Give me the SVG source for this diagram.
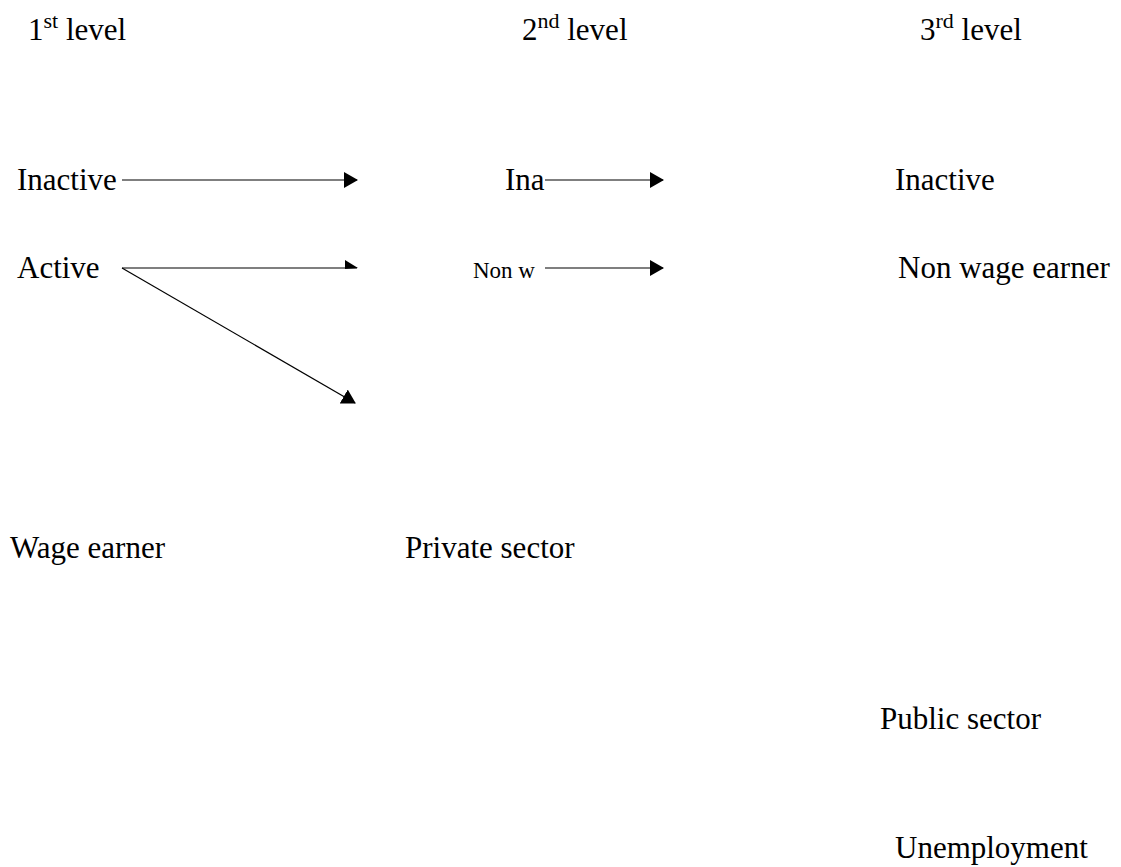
<svg xmlns="http://www.w3.org/2000/svg" width="1121" height="867" viewBox="0 0 1121 867">
<style>
text{font-family:"Liberation Serif","DejaVu Serif",serif;font-size:31px;fill:#000}
.sm{font-size:23px}
.sup{font-size:22px}
.ln{stroke:#000;stroke-width:1.2;fill:none}
</style>
<defs>
<marker id="ah" viewBox="0 0 14 16" refX="13" refY="8" markerWidth="14" markerHeight="16" markerUnits="userSpaceOnUse" orient="auto">
<path d="M0,0 L14,8 L0,16 Z" fill="#000"/>
</marker>
<marker id="ahHalf" viewBox="0 0 14 16" refX="13" refY="8" markerWidth="14" markerHeight="16" markerUnits="userSpaceOnUse" orient="auto">
<path d="M1,0 L14,8 L1,9 Z" fill="#000"/>
</marker>
</defs>
<rect width="1121" height="867" fill="#fff"/>
<g id="h1"><text x="28" y="40">1<tspan class="sup" dy="-12">st</tspan><tspan dy="12"> level</tspan></text></g>
<g id="h2"><text x="522" y="40">2<tspan class="sup" dy="-12">nd</tspan><tspan dy="12"> level</tspan></text></g>
<g id="h3"><text x="920" y="40">3<tspan class="sup" dy="-12">rd</tspan><tspan dy="12"> level</tspan></text></g>
<g id="n-inactive1"><text x="17" y="190">Inactive</text></g>
<g id="n-active"><text x="17" y="278">Active</text></g>
<g id="n-ina2"><text x="505" y="190">Ina</text></g>
<g id="n-nonw2"><text class="sm" x="473" y="278">Non w</text></g>
<g id="n-inactive3"><text x="895" y="190">Inactive</text></g>
<g id="n-nonwage3"><text x="898" y="278">Non wage earner</text></g>
<g id="n-wage"><text x="10" y="558">Wage earner</text></g>
<g id="n-private"><text x="405" y="558">Private sector</text></g>
<g id="n-public"><text x="880" y="729">Public sector</text></g>
<g id="n-unemp"><text x="895" y="858">Unemployment</text></g>
<g id="connectors">
<line class="ln" x1="122" y1="180" x2="357" y2="180" marker-end="url(#ah)"/>
<line class="ln" x1="122" y1="268" x2="357" y2="268" marker-end="url(#ahHalf)"/>
<line class="ln" x1="122" y1="268" x2="355" y2="403" marker-end="url(#ah)"/>
<line class="ln" x1="545" y1="180" x2="663" y2="180" marker-end="url(#ah)"/>
<line class="ln" x1="545" y1="268" x2="663" y2="268" marker-end="url(#ah)"/>
</g>
</svg>
